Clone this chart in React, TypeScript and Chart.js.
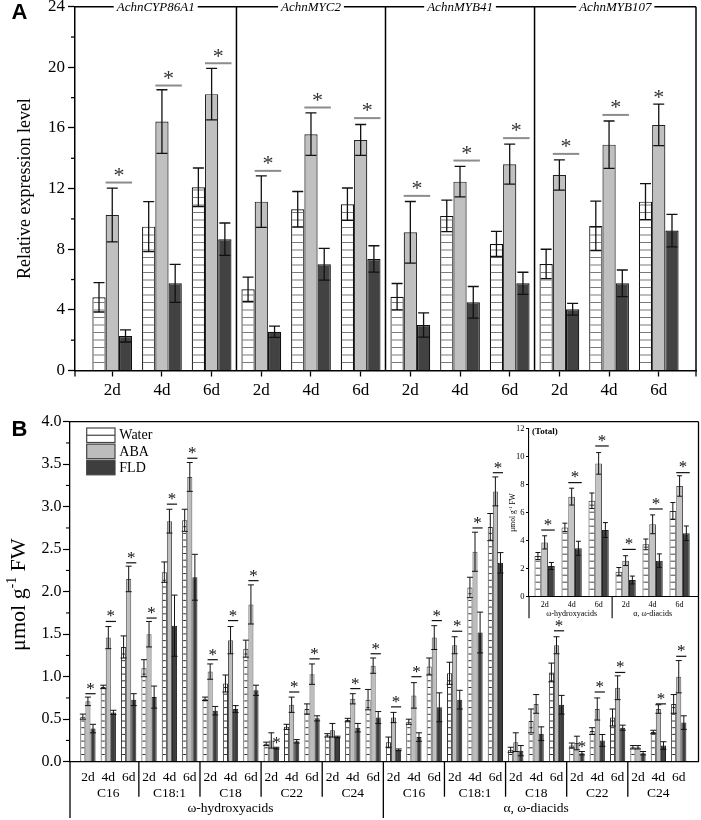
import React, { useEffect, useRef } from 'react';
import { Chart, registerables } from 'chart.js';

Chart.register(...registerables);

const SERIF = '"Liberation Serif", "Times New Roman", Times, serif';
const SANS = '"Liberation Sans", Arial, Helvetica, sans-serif';
Chart.defaults.font.family = SERIF;

// ---------------- Panel A data ----------------
const seriesNames = ['Water', 'ABA', 'FLD'];
const aGenes = ['AchnCYP86A1', 'AchnMYC2', 'AchnMYB41', 'AchnMYB107'];
const aDays = ['2d', '4d', '6d', '2d', '4d', '6d', '2d', '4d', '6d', '2d', '4d', '6d'];
const aWater = [4.83, 9.49, 12.09, 5.36, 10.64, 10.97, 4.87, 10.2, 8.35, 7.03, 9.54, 11.14];
const aWaterErr = [0.97, 1.65, 1.27, 0.8, 1.17, 1.07, 0.87, 1.04, 0.83, 0.97, 1.63, 1.19];
const aAba = [10.26, 16.42, 18.23, 11.14, 15.59, 15.21, 9.12, 12.46, 13.61, 12.9, 14.9, 16.2];
const aAbaErr = [1.77, 2.1, 1.7, 1.7, 1.4, 1.02, 2.03, 1.0, 1.32, 1.0, 1.56, 1.37];
const aFld = [2.28, 5.75, 8.66, 2.56, 7.01, 7.36, 3.0, 4.5, 5.75, 4.04, 5.75, 9.23];
const aFldErr = [0.4, 1.25, 1.07, 0.37, 1.05, 0.87, 0.8, 1.04, 0.73, 0.39, 0.88, 1.07];
const aSig = [12.4, 18.8, 20.27, 13.17, 17.35, 16.65, 11.52, 13.85, 15.33, 14.29, 16.86, null];
const aStarOnlyIdx = [11];
const aStarOnlyVal = [18.25];

// ---------------- Panel B data ----------------
const bDays = ['2d', '4d', '6d'];
const bAcids = ['C16', 'C18:1', 'C18', 'C22', 'C24'];
const bClasses = ['ω-hydroxyacids', 'α, ω-diacids'];
const bWater = [0.53, 0.88, 1.35, 1.1, 2.23, 2.84, 0.74, 0.92, 1.33, 0.21, 0.41, 0.62, 0.31, 0.49, 0.73,
  0.23, 0.47, 1.12, 1.04, 2.05, 2.76, 0.14, 0.48, 1.05, 0.19, 0.36, 0.52, 0.17, 0.35, 0.68];
const bWaterErr = [0.03, 0.02, 0.13, 0.1, 0.12, 0.13, 0.02, 0.1, 0.1, 0.02, 0.03, 0.06, 0.02, 0.02, 0.12,
  0.06, 0.03, 0.1, 0.13, 0.12, 0.16, 0.03, 0.14, 0.11, 0.03, 0.04, 0.1, 0.02, 0.02, 0.11];
const bAba = [0.71, 1.46, 2.15, 1.5, 2.83, 3.35, 1.06, 1.43, 1.85, 0.25, 0.67, 1.03, 0.37, 0.74, 1.13,
  0.52, 0.78, 1.46, 1.37, 2.47, 3.18, 0.23, 0.68, 1.37, 0.22, 0.62, 0.87, 0.17, 0.62, 1.0];
const bAbaErr = [0.05, 0.13, 0.15, 0.15, 0.14, 0.17, 0.09, 0.16, 0.23, 0.09, 0.09, 0.12, 0.08, 0.06, 0.09,
  0.06, 0.15, 0.14, 0.1, 0.23, 0.17, 0.11, 0.11, 0.1, 0.08, 0.13, 0.14, 0.02, 0.05, 0.19];
const bFld = [0.39, 0.58, 0.73, 0.76, 1.6, 2.17, 0.6, 0.62, 0.84, 0.16, 0.24, 0.51, 0.29, 0.4, 0.52,
  0.14, 0.29, 0.64, 0.73, 1.52, 2.34, 0.13, 0.33, 0.67, 0.1, 0.25, 0.4, 0.1, 0.19, 0.46];
const bFldErr = [0.05, 0.025, 0.07, 0.13, 0.36, 0.27, 0.05, 0.04, 0.06, 0.01, 0.02, 0.03, 0.01, 0.05, 0.07,
  0.01, 0.05, 0.17, 0.11, 0.24, 0.12, 0.06, 0.08, 0.11, 0.02, 0.07, 0.03, 0.02, 0.045, 0.08];
const bSig = [0.8, 1.65, 2.34, 1.69, 3.03, 3.57, 1.2, 1.66, 2.13, null, 0.82, 1.21, null, 0.86, 1.27,
  0.645, 1.0, 1.66, 1.535, 2.75, 3.4, null, null, 1.54, null, 0.82, 1.05, null, 0.68, 1.24];
const bStarOnlyIdx = [9, 24];
const bStarOnlyVal = [0.26, 0.21];
const unitMain = 'μmol g';
const unitSup = '-1';
const unitEnd = ' FW';

// ---------------- Inset (Total) data ----------------
const tTitle = '(Total)';
const tWater = [2.9, 4.94, 6.84, 1.78, 3.73, 6.11];
const tWaterErr = [0.25, 0.3, 0.55, 0.3, 0.38, 0.6];
const tAba = [3.87, 7.13, 9.5, 2.57, 5.16, 7.89];
const tAbaErr = [0.47, 0.6, 0.77, 0.35, 0.67, 0.73];
const tFld = [2.19, 3.45, 4.75, 1.19, 2.57, 4.52];
const tFldErr = [0.25, 0.5, 0.53, 0.28, 0.48, 0.52];
const tSig = [4.75, 8.13, 10.74, 3.37, 6.25, 8.84];

// ---------------- helpers ----------------
function line(ctx: any, x1: number, y1: number, x2: number, y2: number) {
  ctx.beginPath();
  ctx.moveTo(x1, y1);
  ctx.lineTo(x2, y2);
  ctx.stroke();
}

function hatch(chart: any, step: number, color: string, lw: number) {
  const ctx = chart.ctx;
  const meta = chart.getDatasetMeta(0);
  ctx.save();
  ctx.strokeStyle = color;
  ctx.lineWidth = lw;
  ctx.beginPath();
  meta.data.forEach((el: any) => {
    const l = el.x - el.width / 2 + 1;
    const r = el.x + el.width / 2 - 1;
    for (let yy = el.base - step; yy > el.y + 1.5; yy -= step) {
      ctx.moveTo(l, yy);
      ctx.lineTo(r, yy);
    }
  });
  ctx.stroke();
  ctx.restore();
}

function errorBars(chart: any, vals: number[][], errs: number[][], capW: number, lw: number, color: string) {
  const ctx = chart.ctx;
  const ys = chart.scales.y;
  ctx.save();
  ctx.strokeStyle = color;
  ctx.lineWidth = lw;
  ctx.beginPath();
  vals.forEach((arr, d) => {
    chart.getDatasetMeta(d).data.forEach((el: any, i: number) => {
      const y1 = ys.getPixelForValue(arr[i] + errs[d][i]);
      const y2 = ys.getPixelForValue(arr[i] - errs[d][i]);
      const x = el.x;
      ctx.moveTo(x, y1);
      ctx.lineTo(x, y2);
      ctx.moveTo(x - capW / 2, y1);
      ctx.lineTo(x + capW / 2, y1);
      ctx.moveTo(x - capW / 2, y2);
      ctx.lineTo(x + capW / 2, y2);
    });
  });
  ctx.stroke();
  ctx.restore();
}

function drawStar(ctx: any, x: number, cy: number, size: number, color: string) {
  ctx.save();
  ctx.fillStyle = color;
  ctx.font = `${size}px ${SERIF}`;
  ctx.textAlign = 'center';
  ctx.textBaseline = 'alphabetic';
  ctx.fillText('*', x, cy + 0.47 * size);
  ctx.restore();
}

function sigMarks(chart: any, sig: (number | null)[], o: any) {
  const ctx = chart.ctx;
  const ys = chart.scales.y;
  const aba = chart.getDatasetMeta(1).data;
  const fld = chart.getDatasetMeta(2).data;
  sig.forEach((v, i) => {
    if (v == null) return;
    const l = aba[i].x - aba[i].width / 2;
    const r = fld[i].x + fld[i].width / 2;
    const yy = ys.getPixelForValue(v);
    ctx.save();
    ctx.strokeStyle = o.lineColor;
    ctx.lineWidth = o.lw;
    line(ctx, l, yy, r, yy);
    ctx.restore();
    drawStar(ctx, (l + r) / 2, yy - o.gap, o.size, o.color);
  });
}

function starsOnly(chart: any, idx: number[], vals: number[], ds: number, size: number, color: string) {
  const ys = chart.scales.y;
  const meta = chart.getDatasetMeta(ds).data;
  idx.forEach((i, k) => {
    drawStar(chart.ctx, meta[i].x, ys.getPixelForValue(vals[k]), size, color);
  });
}

function unitTitle(ctx: any, x: number, cy: number, size: number) {
  const parts: [string, number, number][] = [
    [unitMain, size, 0],
    [unitSup, size * 0.62, -size * 0.4],
    [unitEnd, size, 0],
  ];
  ctx.save();
  ctx.fillStyle = '#000';
  ctx.textBaseline = 'alphabetic';
  ctx.textAlign = 'left';
  const widths = parts.map(([t, s]) => {
    ctx.font = `${s}px ${SERIF}`;
    return ctx.measureText(t).width;
  });
  const total = widths.reduce((a, b) => a + b, 0);
  ctx.translate(x, cy);
  ctx.rotate(-Math.PI / 2);
  let px = -total / 2;
  parts.forEach(([t, s, dy], k) => {
    ctx.font = `${s}px ${SERIF}`;
    ctx.fillText(t, px, dy);
    px += widths[k];
  });
  ctx.restore();
}

const mk = (vals: number[]) => vals.map((v, i) => ({ x: i, y: v }));

function baseOptions(padding: any) {
  return {
    responsive: false,
    animation: false,
    events: [],
    layout: { padding },
    plugins: { legend: { display: false }, tooltip: { enabled: false } },
  };
}

// ---------------- Panel A ----------------
function buildA(canvas: HTMLCanvasElement) {
  return new Chart(canvas, {
    type: 'bar',
    data: {
      datasets: [
        { label: seriesNames[0], data: mk(aWater), backgroundColor: '#ffffff', borderColor: '#111', borderWidth: 1.2 },
        { label: seriesNames[1], data: mk(aAba), backgroundColor: '#c0c0c0', borderColor: '#222', borderWidth: 1.2 },
        { label: seriesNames[2], data: mk(aFld), backgroundColor: '#424242', borderColor: '#111', borderWidth: 1.2 },
      ],
    } as any,
    options: {
      ...baseOptions({ left: 0, top: 6.7, right: 5, bottom: 0 }),
      datasets: { bar: { categoryPercentage: 0.8, barPercentage: 1 } },
      scales: {
        x: {
          type: 'linear',
          min: -0.75,
          max: 11.75,
          offset: false,
          afterBuildTicks: (s: any) => {
            s.ticks = aDays.map((_, i) => ({ value: i }));
          },
          ticks: {
            autoSkip: false,
            maxRotation: 0,
            minRotation: 0,
            color: '#000',
            padding: 4,
            font: { family: SERIF, size: 17 },
            callback: (_v: any, i: number) => aDays[i],
          },
          grid: { drawOnChartArea: false, offset: false, drawTicks: true, tickLength: 6, tickColor: '#000', tickWidth: 1.3 },
          border: { display: true, color: '#000', width: 1.5 },
          afterFit: (s: any) => {
            s.height = 31.5;
            s.paddingLeft = 0;
            s.paddingRight = 0;
          },
        },
        y: {
          min: 0,
          max: 24,
          ticks: { stepSize: 4, color: '#000', padding: 3, font: { family: SERIF, size: 17 } },
          grid: { drawOnChartArea: false, drawTicks: true, tickLength: 7, tickColor: '#000', tickWidth: 1.3 },
          border: { display: true, color: '#000', width: 1.5 },
          title: { display: true, text: 'Relative expression level', color: '#000', font: { family: SERIF, size: 18 }, padding: { top: 14, bottom: 0 } },
          afterFit: (s: any) => {
            s.width = 75;
            s.paddingTop = 0;
            s.paddingBottom = 0;
          },
        },
      },
    } as any,
    plugins: [
      {
        id: 'decorA',
        afterDatasetsDraw(chart: any) {
          const ctx = chart.ctx;
          const { left, right, top, bottom } = chart.chartArea;
          const xs = chart.scales.x;
          const ys = chart.scales.y;
          hatch(chart, 7.5, '#7a7a7a', 1.2);
          errorBars(chart, [aWater, aAba, aFld], [aWaterErr, aAbaErr, aFldErr], 11, 1.3, '#111');
          sigMarks(chart, aSig, { lineColor: '#8c8c8c', lw: 2, gap: 11, size: 22, color: '#333' });
          starsOnly(chart, aStarOnlyIdx, aStarOnlyVal, 1, 22, '#333');

          ctx.save();
          ctx.strokeStyle = '#000';
          ctx.lineWidth = 1.5;
          line(ctx, left, top, right, top);
          line(ctx, right, top, right, bottom);
          const bounds = [-0.75, 2.5, 5.5, 8.5, 11.75];
          [2.5, 5.5, 8.5].forEach((v) => {
            const px = xs.getPixelForValue(v);
            line(ctx, px, top, px, bottom);
          });
          ctx.lineWidth = 1.3;
          [-0.75, 11.75].forEach((v) => {
            const px = xs.getPixelForValue(v);
            line(ctx, px, bottom, px, bottom + 6);
          });
          for (let v = 2; v < 24; v += 4) {
            const py = ys.getPixelForValue(v);
            line(ctx, left - 4, py, left, py);
          }
          ctx.font = `italic 13px ${SERIF}`;
          ctx.textAlign = 'center';
          ctx.textBaseline = 'middle';
          aGenes.forEach((g, k) => {
            const cx = (xs.getPixelForValue(bounds[k]) + xs.getPixelForValue(bounds[k + 1])) / 2;
            const w = ctx.measureText(g).width;
            ctx.fillStyle = '#fff';
            ctx.fillRect(cx - w / 2 - 3, top - 6, w + 6, 12);
            ctx.fillStyle = '#000';
            ctx.fillText(g, cx, top + 0.5);
          });
          ctx.font = `bold 22px ${SANS}`;
          ctx.textAlign = 'left';
          ctx.textBaseline = 'alphabetic';
          ctx.fillText('A', 11.5, 18.5);
          ctx.restore();
        },
      },
    ],
  } as any);
}

// ---------------- Panel B ----------------
function bLabel(i: number) {
  const cls = Math.floor(i / 15);
  const acid = Math.floor((i % 15) / 3);
  const day = i % 3;
  const lines = [bDays[day]];
  if (day === 1) lines.push(bAcids[acid]);
  if (i % 15 === 7) lines.push(bClasses[cls]);
  return lines;
}

function buildB(canvas: HTMLCanvasElement) {
  return new Chart(canvas, {
    type: 'bar',
    data: {
      datasets: [
        { label: seriesNames[0], data: mk(bWater), backgroundColor: '#ffffff', borderColor: '#333', borderWidth: 1 },
        { label: seriesNames[1], data: mk(bAba), backgroundColor: '#bdbdbd', borderColor: '#555', borderWidth: 1 },
        { label: seriesNames[2], data: mk(bFld), backgroundColor: '#3e3e3e', borderColor: '#222', borderWidth: 1 },
      ],
    } as any,
    options: {
      ...baseOptions({ left: 0, top: 19.7, right: 2.5, bottom: 0 }),
      datasets: { bar: { categoryPercentage: 0.75, barPercentage: 1 } },
      scales: {
        x: {
          type: 'linear',
          min: -0.88,
          max: 29.97,
          offset: false,
          afterBuildTicks: (s: any) => {
            s.ticks = bWater.map((_, i) => ({ value: i }));
          },
          ticks: {
            autoSkip: false,
            maxRotation: 0,
            minRotation: 0,
            color: '#000',
            padding: 7.8,
            font: { family: SERIF, size: 13.5, lineHeight: 1.16 },
            callback: (_v: any, i: number) => bLabel(i),
          },
          grid: { drawOnChartArea: false, offset: false, drawTicks: false },
          border: { display: true, color: '#000', width: 1.3 },
          afterFit: (s: any) => {
            s.height = 58.3;
            s.paddingLeft = 0;
            s.paddingRight = 0;
          },
        },
        y: {
          min: 0,
          max: 4,
          ticks: {
            stepSize: 0.5,
            color: '#000',
            padding: 1.5,
            font: { family: SERIF, size: 16 },
            callback: (v: any) => Number(v).toFixed(1),
          },
          grid: { drawOnChartArea: false, drawTicks: true, tickLength: 7, tickColor: '#000', tickWidth: 1.2 },
          border: { display: true, color: '#000', width: 1.3 },
          afterFit: (s: any) => {
            s.width = 70;
            s.paddingTop = 0;
            s.paddingBottom = 0;
          },
        },
      },
    } as any,
    plugins: [
      {
        id: 'decorB',
        afterDatasetsDraw(chart: any) {
          const ctx = chart.ctx;
          const { left, right, top, bottom } = chart.chartArea;
          const H = chart.height;
          const xs = chart.scales.x;
          const ys = chart.scales.y;
          hatch(chart, 6.7, '#333', 1);
          errorBars(chart, [bWater, bAba, bFld], [bWaterErr, bAbaErr, bFldErr], 6, 1, '#111');
          sigMarks(chart, bSig, { lineColor: '#111', lw: 1.2, gap: 8, size: 17, color: '#111' });
          starsOnly(chart, bStarOnlyIdx, bStarOnlyVal, 2, 17, '#111');

          ctx.save();
          ctx.strokeStyle = '#000';
          ctx.lineWidth = 1.3;
          line(ctx, left, top, right, top);
          line(ctx, right, top, right, bottom);
          line(ctx, left, bottom, left, H - 2);
          [2.5, 5.5, 8.5, 11.5, 17.5, 20.5, 23.5, 26.5].forEach((v) => {
            const px = xs.getPixelForValue(v);
            line(ctx, px, bottom, px, bottom + 35);
          });
          const mid = xs.getPixelForValue(14.5);
          line(ctx, mid, bottom, mid, H - 2);
          ctx.lineWidth = 1.1;
          for (let v = 0.25; v < 4; v += 0.5) {
            const py = ys.getPixelForValue(v);
            line(ctx, left - 4, py, left, py);
          }

          // legend
          const lx = left + 16.7;
          const boxW = 28.3;
          const boxH = 14.5;
          chart.data.datasets.forEach((ds: any, d: number) => {
            const by = top + 6.3 + d * 16.15;
            ctx.fillStyle = ds.backgroundColor;
            ctx.fillRect(lx, by, boxW, boxH);
            ctx.strokeStyle = '#444';
            ctx.lineWidth = 1.2;
            ctx.strokeRect(lx, by, boxW, boxH);
            if (d === 0) line(ctx, lx, by + boxH / 2, lx + boxW, by + boxH / 2);
            ctx.fillStyle = '#000';
            ctx.font = `14px ${SERIF}`;
            ctx.textAlign = 'left';
            ctx.textBaseline = 'middle';
            ctx.fillText(ds.label, lx + boxW + 4.3, by + boxH / 2 + 0.5);
          });

          unitTitle(ctx, 25, (top + bottom) / 2 + 3, 22);

          ctx.fillStyle = '#000';
          ctx.font = `bold 22px ${SANS}`;
          ctx.textAlign = 'left';
          ctx.textBaseline = 'alphabetic';
          ctx.fillText('B', 11.5, 34);
          ctx.restore();
        },
      },
    ],
  } as any);
}

// ---------------- Inset ----------------
function tLabel(j: number) {
  const day = j % 3;
  const lines = [bDays[day]];
  if (day === 1) lines.push(bClasses[Math.floor(j / 3)]);
  return lines;
}

function buildInset(canvas: HTMLCanvasElement) {
  return new Chart(canvas, {
    type: 'bar',
    data: {
      datasets: [
        { label: seriesNames[0], data: mk(tWater), backgroundColor: '#ffffff', borderColor: '#333', borderWidth: 1 },
        { label: seriesNames[1], data: mk(tAba), backgroundColor: '#c4c4c4', borderColor: '#555', borderWidth: 1 },
        { label: seriesNames[2], data: mk(tFld), backgroundColor: '#404040', borderColor: '#222', borderWidth: 1 },
      ],
    } as any,
    options: {
      ...baseOptions({ left: 0, top: 8.3, right: 2.5, bottom: 0 }),
      datasets: { bar: { categoryPercentage: 0.75, barPercentage: 1 } },
      scales: {
        x: {
          type: 'linear',
          min: -0.58,
          max: 5.7,
          offset: false,
          afterBuildTicks: (s: any) => {
            s.ticks = tWater.map((_, i) => ({ value: i }));
          },
          ticks: {
            autoSkip: false,
            maxRotation: 0,
            minRotation: 0,
            color: '#000',
            padding: 4,
            font: { family: SERIF, size: 8, lineHeight: 1.09 },
            callback: (_v: any, i: number) => tLabel(i),
          },
          grid: { drawOnChartArea: false, offset: false, drawTicks: false },
          border: { display: true, color: '#000', width: 1.1 },
          afterFit: (s: any) => {
            s.height = 28.3;
            s.paddingLeft = 0;
            s.paddingRight = 0;
          },
        },
        y: {
          min: 0,
          max: 12,
          ticks: { stepSize: 2, color: '#000', padding: 1.5, font: { family: SERIF, size: 8.5 } },
          grid: { drawOnChartArea: false, drawTicks: true, tickLength: 3, tickColor: '#000', tickWidth: 1 },
          border: { display: true, color: '#000', width: 1.1 },
          afterFit: (s: any) => {
            s.width = 49;
            s.paddingTop = 0;
            s.paddingBottom = 0;
          },
        },
      },
    } as any,
    plugins: [
      {
        id: 'decorT',
        afterDatasetsDraw(chart: any) {
          const ctx = chart.ctx;
          const { left, top, bottom } = chart.chartArea;
          const xs = chart.scales.x;
          hatch(chart, 7, '#444', 1);
          errorBars(chart, [tWater, tAba, tFld], [tWaterErr, tAbaErr, tFldErr], 5, 1, '#111');
          sigMarks(chart, tSig, { lineColor: '#111', lw: 1.2, gap: 8.3, size: 17, color: '#111' });

          ctx.save();
          ctx.strokeStyle = '#000';
          ctx.lineWidth = 1.1;
          line(ctx, left, bottom, left, bottom + 21.6);
          const sep = xs.getPixelForValue(2.5);
          line(ctx, sep, bottom, sep, bottom + 21.6);
          unitTitle(ctx, 35, (top + bottom) / 2, 7.5);
          ctx.fillStyle = '#000';
          ctx.font = `bold 9px ${SERIF}`;
          ctx.textAlign = 'left';
          ctx.textBaseline = 'middle';
          ctx.fillText(tTitle, left + 3, top + 3.4);
          ctx.restore();
        },
      },
    ],
  } as any);
}

function ChartBox({ left, top, width, height, build }: any) {
  const ref = useRef<HTMLCanvasElement>(null);
  useEffect(() => {
    const c = build(ref.current as HTMLCanvasElement);
    return () => c.destroy();
  }, [build]);
  return (
    <canvas
      ref={ref}
      width={width}
      height={height}
      style={{ position: 'absolute', left, top, width, height, display: 'block' }}
    />
  );
}

export default function App() {
  return (
    <div style={{ position: 'absolute', left: 0, top: 0, width: 701, height: 820, background: '#fff', overflow: 'hidden' }}>
      <ChartBox left={0} top={0} width={701} height={402} build={buildA} />
      <ChartBox left={0} top={402} width={701} height={418} build={buildB} />
      <ChartBox left={480} top={420} width={221} height={205} build={buildInset} />
    </div>
  );
}
